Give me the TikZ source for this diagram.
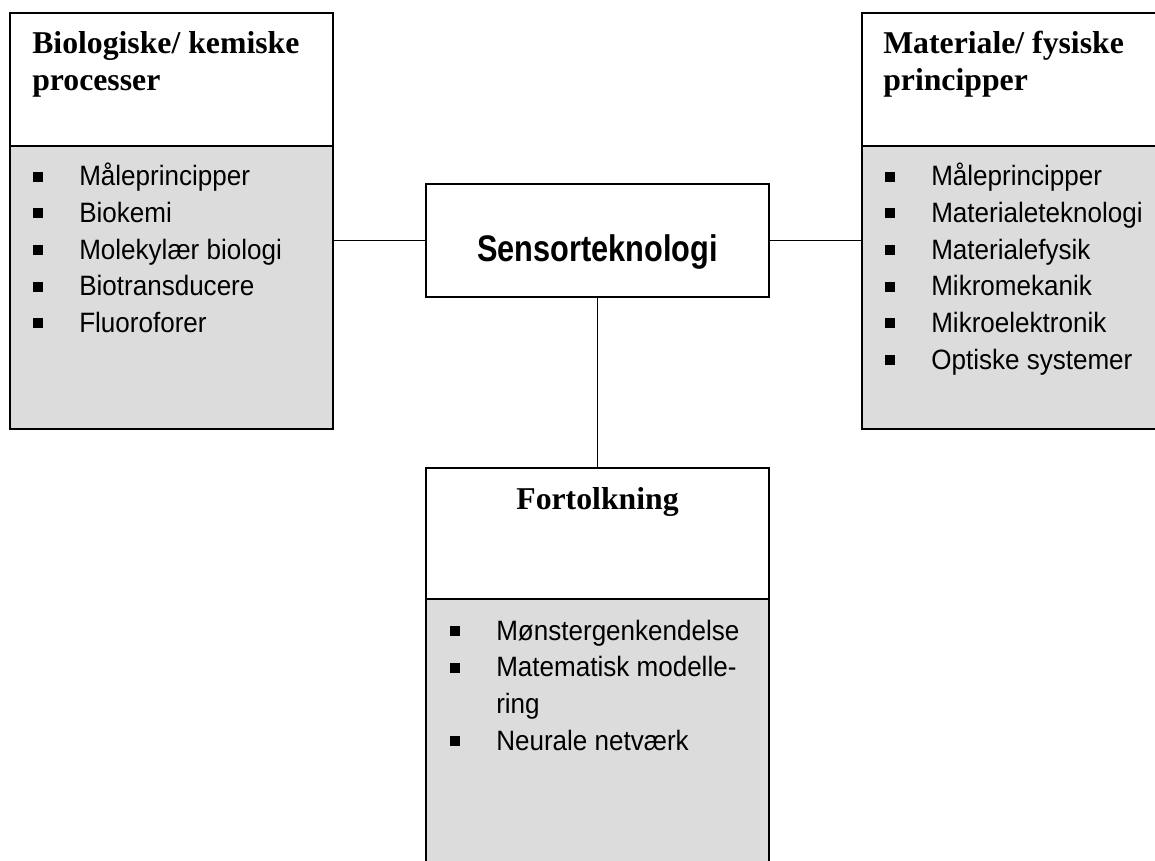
\documentclass[tikz,border=0pt]{standalone}
\usepackage{fontspec}
\setmainfont{Liberation Serif}
\newfontfamily\bulletfont[FakeStretch=0.93]{Liberation Sans}
\newfontfamily\centerfont[FakeStretch=0.83]{Liberation Sans}
\definecolor{boxgray}{RGB}{220,220,220}
\newcommand\bsq{\makebox[34.5pt][l]{\rule[3pt]{7pt}{7.5pt}}}
\newcommand\bskip{\makebox[34.5pt]{}}
\begin{document}
\begin{tikzpicture}[x=0.75pt,y=-0.75pt,
  boxpart/.style={draw=black, line width=1.4pt, anchor=north west, inner sep=0pt, outer sep=0pt},
  headpart/.style={boxpart, fill=white},
  bodypart/.style={boxpart, fill=boxgray},
  title/.style={font=\bfseries\fontsize{23.8}{28}\selectfont, anchor=base west, inner sep=0pt, align=left},
  itemlist/.style={font=\bulletfont\fontsize{21}{27.5}\selectfont, anchor=base west, inner sep=0pt, align=left},
  link/.style={draw=black, line width=1.3pt}]
\useasboundingbox (0,0) rectangle (1155,860);
\clip (0,0) rectangle (1155,860);
\fill[white] (0,0) rectangle (1155,860);

% left box
\node[headpart, minimum width=242.25pt, minimum height=99.75pt] (lhead) at (10,13) {};
\node[bodypart, minimum width=242.25pt, minimum height=212.25pt] (lbody) at (lhead.south west) {};
% right box
\node[headpart, minimum width=225pt, minimum height=99.75pt] (rhead) at (862,13) {};
\node[bodypart, minimum width=225pt, minimum height=212.25pt] (rbody) at (rhead.south west) {};
% center
\node[boxpart, fill=white, minimum width=257.25pt, minimum height=84.75pt,
      font=\centerfont\bfseries\fontsize{27.75}{32}\selectfont,
      text height=31.8pt, text depth=0pt] (center) at (426,184) {Sensorteknologi};
% bottom box
\node[headpart, minimum width=257.25pt, minimum height=98.25pt,
      font=\bfseries\fontsize{23.8}{28}\selectfont,
      text height=0pt, text depth=36.75pt] (bhead) at (426,468) {Fortolkning};
\node[bodypart, minimum width=257.25pt, minimum height=210.75pt] (bbody) at (bhead.south west) {};

% connectors
\draw[link] (center.west) -- (center.west -| lbody.east);
\draw[link] (center.east) -- (center.east -| rbody.west);
\draw[link] (center.south) -- (bhead.north);

% titles (anchored at the baseline of their last line)
\node[title] (ltitle) at (32,90.7) {Biologiske/ kemiske\\processer};
\node[title] (rtitle) at (883,90.7) {Materiale/ fysiske\\principper};

% lists (anchored at the baseline of their last line)
\node[itemlist] (llist) at (33,332.4) {\bsq Måleprincipper\\\bsq Biokemi\\\bsq Molekylær biologi\\\bsq Biotransducere\\\bsq Fluoroforer};
\node[itemlist] (rlist) at (885,369) {\bsq Måleprincipper\\\bsq Materialeteknologi\\\bsq Materialefysik\\\bsq Mikromekanik\\\bsq Mikroelektronik\\\bsq Optiske systemer};
\node[itemlist] (blist) at (450,750) {\bsq Mønstergenkendelse\\\bsq Matematisk modelle-\\\bskip ring\\\bsq Neurale netværk};
\end{tikzpicture}
\end{document}
